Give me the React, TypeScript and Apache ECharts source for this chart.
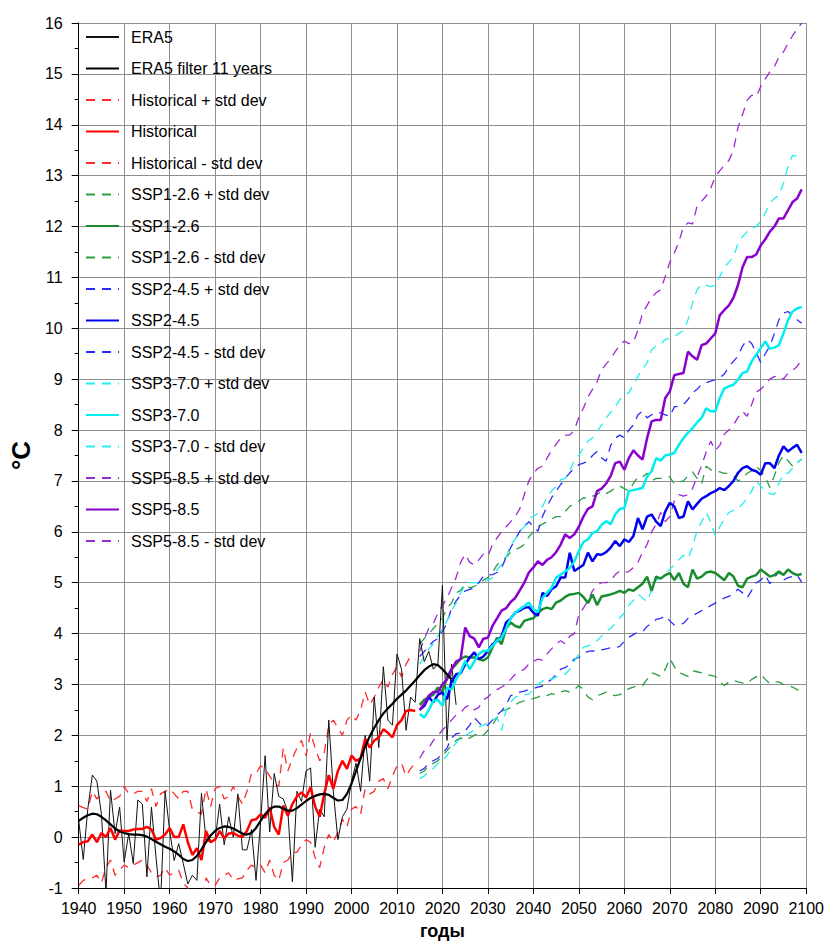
import React, { useEffect, useRef } from "react";
import * as echarts from "echarts";

// ---------- DATA ----------
const ERA5_START = 1940;
const era5 = [
  0.33, -0.44, 0.55, 1.22, 1.1, 0.45, -1.08, 0.92, 0.07, 0.59,
  -0.49, 0.07, -0.52, 0.73, 0.65, -0.78, 0.59, -0.39, -1.3, 0.9,
  0.13, -0.46, -0.13, -0.52, -0.92, -0.75, -0.85, 0.86, -0.05, -0.1,
  -0.05, 0.65, -0.15, 0.4, 0.0, 0.85, -0.25, -0.25, 0.15, -0.85,
  0.3, 1.6, 0.1, 1.25, 0.8, 0.75, 0.5, -0.88, 0.9, 0.7,
  1.3, 1.36, -0.2, 0.55, 0.4, 2.3, 0.9, -0.05, 0.4, 0.55,
  1.1, 1.45, 0.9, 2.0, 1.1, 2.75, 1.76, 3.35, 2.3, 2.2,
  3.6, 3.3, 2.1, 2.75, 2.65, 3.9, 3.45, 3.65, 3.3, 3.4,
  4.95, 1.9, 3.4, 2.6,
];
const era5Filter = [
  0.32, 0.38, 0.43, 0.46, 0.45, 0.4, 0.33, 0.25, 0.17, 0.11,
  0.08, 0.06, 0.05, 0.05, 0.04, 0.01, -0.04, -0.09, -0.14, -0.19,
  -0.23, -0.28, -0.35, -0.43, -0.47, -0.45, -0.37, -0.24, -0.1, 0.03,
  0.12, 0.18, 0.21, 0.2, 0.17, 0.12, 0.07, 0.05, 0.08, 0.18,
  0.32, 0.45, 0.55, 0.6, 0.6, 0.56, 0.52, 0.52, 0.57, 0.64,
  0.71, 0.77, 0.81, 0.84, 0.85, 0.83, 0.77, 0.72, 0.73, 0.85,
  1.05, 1.3, 1.55, 1.78, 1.98, 2.15, 2.3, 2.43, 2.53, 2.62,
  2.72, 2.8, 2.88, 2.98, 3.08, 3.18, 3.28, 3.35, 3.4, 3.38,
  3.3, 3.2, 3.1,
];

const HIST_START = 1940;
const histPlus = [
  0.62, 0.58, 0.55, 0.9, 0.75, 0.85, 0.9, 0.7, 0.75, 0.8,
  1.0, 0.85, 0.85, 0.9, 0.9, 0.7, 0.95, 0.6, 0.85, 0.9,
  0.95, 0.85, 0.75, 0.9, 0.9, 0.55, 0.5, 0.45, 0.95, 0.6,
  0.95, 1.0, 0.75, 0.8, 1.0, 0.8, 0.65, 0.9, 1.25, 1.25,
  1.4, 1.35, 1.2, 1.05, 1.0, 1.75, 1.3, 1.55, 1.75, 1.9,
  1.6, 2.05, 1.75, 1.5, 1.65, 2.2, 2.3, 2.15, 2.0, 2.3,
  2.4, 2.3, 2.5, 2.85, 2.6, 2.75, 2.95, 3.1, 2.95, 3.2,
  3.35, 3.15, 3.4, 3.55, 3.5,
];
const hist = [
  -0.15, -0.1, -0.08, 0.05, -0.1, 0.08, 0.0, 0.18, -0.05, 0.13,
  0.12, 0.12, 0.15, 0.16, 0.16, 0.2, 0.15, -0.05, -0.02, 0.05,
  0.18, 0.0, 0.0, 0.25, -0.1, -0.35, -0.22, -0.45, 0.12, -0.1,
  -0.05, 0.12, -0.02, 0.07, 0.08, 0.03, 0.0, 0.12, 0.33, 0.35,
  0.45, 0.38, 0.58, 0.2, 0.05, 0.62, 0.42, 0.65, 0.8, 0.88,
  0.78, 0.98, 0.6, 0.4, 0.85, 1.22, 0.95, 1.3, 1.5, 1.34,
  1.6, 1.5, 1.55, 1.93, 1.76, 1.9, 1.96, 2.12, 2.05, 1.96,
  2.2, 2.3, 2.48, 2.5, 2.48,
];
const histMinus = [
  -0.95, -0.85, -0.82, -0.8, -0.75, -0.9, -0.6, -0.45, -0.75, -0.65,
  -0.55, -0.6, -0.55, -0.5, -0.45, -0.55, -0.7, -0.78, -0.75, -0.6,
  -0.75, -0.7, -0.65, -0.9, -1.0, -1.15, -1.1, -1.25, -0.8, -0.95,
  -0.95, -0.8, -0.75, -0.7, -0.85, -0.82, -0.8, -0.65, -0.55, -0.6,
  -0.55, -0.7, -0.45, -0.75, -0.85, -0.5, -0.45, -0.3, -0.3, -0.15,
  -0.05, -0.1, -0.4, -0.6, -0.2, 0.05, -0.1, 0.1, 0.35, 0.2,
  0.55, 0.6, 0.45, 0.95, 0.85, 0.9, 1.1, 1.15, 0.95, 1.2,
  1.4, 1.45, 1.2, 1.35, 1.45,
];

const SSP_START = 2015;
const ssp126Plus = [
  3.8, 3.9, 4.0, 4.1, 4.2, 4.3, 4.5, 4.6, 4.8, 4.85,
  4.97, 4.9, 4.93, 4.97, 5.05, 5.1, 5.2, 5.35, 5.43, 5.5,
  5.6, 5.65, 5.69, 5.75, 5.9, 6.0, 6.1, 6.15, 6.2, 6.25,
  6.3, 6.3, 6.4, 6.5, 6.55, 6.6, 6.67, 6.66, 6.7, 6.73,
  6.8, 6.75, 6.8, 6.86, 6.9, 6.85, 6.8, 6.95, 7.08, 7.08,
  7.15, 7.0, 7.05, 7.05, 7.08, 7.08, 6.94, 6.98, 7.0, 7.1,
  7.18, 7.05, 6.94, 7.29, 7.22, 7.2, 7.18, 7.15, 7.15, 7.1,
  7.0, 7.05, 7.15, 7.2, 7.29, 7.2, 7.08, 6.87, 7.1, 7.36,
  7.5, 7.4, 7.29, 7.35, 7.43,
];
const ssp126 = [
  2.6, 2.7, 2.75, 2.8, 2.94, 2.85, 3.14, 3.3, 3.4, 3.5,
  3.55, 3.53, 3.53, 3.5, 3.47, 3.53, 3.73, 3.92, 3.79, 4.1,
  4.22, 4.15, 4.12, 4.25, 4.28, 4.3, 4.41, 4.48, 4.51, 4.48,
  4.61, 4.65, 4.72, 4.77, 4.78, 4.8, 4.72, 4.6, 4.77, 4.56,
  4.73, 4.75, 4.77, 4.8, 4.84, 4.8, 4.87, 4.84, 4.91, 4.98,
  5.12, 4.84, 5.12, 5.08, 5.15, 5.19, 5.05, 5.19, 4.98, 4.91,
  5.26, 5.08, 5.12, 5.2, 5.22, 5.19, 5.12, 5.05, 5.19, 5.12,
  4.94, 4.91, 5.08, 5.12, 5.15, 5.26, 5.19, 5.12, 5.15, 5.22,
  5.15, 5.26, 5.19, 5.15, 5.17,
];
const ssp126Minus = [
  1.25, 1.3, 1.4, 1.45, 1.5, 1.6, 1.7, 1.8, 1.9, 1.95,
  1.9, 1.95, 2.0, 2.05, 2.0, 2.1, 2.2, 2.35, 2.48, 2.5,
  2.55, 2.6, 2.65, 2.68, 2.7, 2.72, 2.75, 2.8, 2.78, 2.82,
  2.8, 2.85, 2.88, 2.85, 2.9, 2.98, 2.9, 2.75, 2.7, 2.78,
  2.81, 2.85, 2.8, 2.78, 2.8, 2.85, 2.92, 2.95, 2.98, 2.98,
  3.1, 3.23, 3.2, 3.16, 3.3, 3.51, 3.35, 3.23, 3.2, 3.16,
  3.27, 3.25, 3.23, 3.2, 3.18, 3.16, 3.05, 2.98, 3.05, 3.08,
  3.05, 3.03, 3.02, 3.1, 3.15, 3.2, 3.1, 3.02, 3.05, 3.05,
  3.0, 2.98, 2.95, 2.9, 2.88,
];
const ssp245Plus = [
  3.55, 3.65, 3.75, 3.85, 3.9, 4.05, 4.2, 4.5, 4.64, 4.75,
  4.84, 4.87, 4.9, 5.0, 5.13, 5.15, 5.16, 5.2, 5.29, 5.5,
  5.69, 5.85, 6.01, 6.1, 6.2, 6.1, 6.01, 6.3, 6.5, 6.67,
  6.8, 6.93, 7.05, 7.16, 7.25, 7.32, 7.35, 7.39, 7.5, 7.58,
  7.45, 7.39, 7.7, 7.84, 7.9, 7.85, 8.0, 8.1, 8.3, 8.37,
  8.24, 8.3, 8.34, 8.34, 8.3, 8.27, 8.46, 8.46, 8.5, 8.6,
  8.73, 8.8, 8.9, 8.93, 8.96, 8.99, 9.03, 9.1, 9.25, 9.35,
  9.45, 9.65, 9.78, 9.7, 9.52, 9.33, 9.5, 9.65, 9.9, 10.17,
  10.3, 10.33, 10.25, 10.17, 10.1,
];
const ssp245 = [
  2.5, 2.58, 2.75, 2.65, 2.8, 2.84, 2.71, 3.05, 3.2, 3.22,
  3.4, 3.53, 3.63, 3.5, 3.55, 3.66, 3.79, 3.85, 3.95, 4.22,
  4.3, 4.41, 4.45, 4.51, 4.52, 4.41, 4.35, 4.8, 4.74, 4.87,
  4.93, 5.1, 5.1, 5.59, 5.23, 5.29, 5.35, 5.59, 5.42, 5.56,
  5.55, 5.6, 5.69, 5.82, 5.72, 5.85, 5.8, 5.92, 6.27, 6.05,
  6.3, 6.34, 6.2, 6.11, 6.4, 6.57, 6.5, 6.27, 6.3, 6.6,
  6.44, 6.55, 6.65, 6.7, 6.76, 6.8, 6.86, 6.82, 6.9, 7.0,
  7.16, 7.25, 7.29, 7.22, 7.19, 7.12, 7.35, 7.35, 7.25, 7.5,
  7.68, 7.58, 7.65, 7.71, 7.55,
];
const ssp245Minus = [
  1.3, 1.35, 1.45, 1.5, 1.55, 1.65, 1.75, 1.95, 2.03, 2.05,
  2.09, 2.2, 2.35, 2.25, 2.16, 2.2, 2.3, 2.4, 2.48, 2.6,
  2.78, 2.81, 2.85, 2.87, 2.9, 2.92, 2.95, 2.97, 3.04, 3.1,
  3.2, 3.3, 3.33, 3.4, 3.5, 3.53, 3.6, 3.65, 3.66, 3.65,
  3.68, 3.7, 3.72, 3.72, 3.75, 3.85, 3.93, 3.98, 4.03, 4.03,
  4.14, 4.2, 4.28, 4.3, 4.35, 4.25, 4.17, 4.18, 4.2, 4.3,
  4.35, 4.4, 4.45, 4.5, 4.55, 4.6, 4.65, 4.7, 4.73, 4.8,
  4.87, 4.8, 4.7, 4.85, 5.0, 5.05, 5.15, 4.98, 5.1, 5.22,
  5.05, 5.1, 5.12, 5.15, 5.01,
];
const ssp370Plus = [
  3.4, 3.55, 3.7, 3.8, 3.95, 4.1, 4.25, 4.45, 4.6, 4.8,
  4.95, 5.0, 5.0, 5.0, 5.02, 5.05, 5.1, 5.25, 5.36, 5.5,
  5.75, 5.85, 6.01, 6.1, 6.27, 6.3, 6.37, 6.5, 6.67, 6.8,
  6.9, 7.02, 7.05, 7.2, 7.4, 7.5, 7.65, 7.78, 7.85, 7.97,
  8.1, 8.24, 8.35, 8.46, 8.6, 8.7, 8.73, 8.9, 9.06, 9.2,
  9.32, 9.58, 9.65, 9.68, 9.78, 9.8, 9.84, 9.9, 9.95, 10.17,
  10.5, 10.76, 10.86, 10.85, 10.82, 10.85, 11.02, 11.2, 11.3, 11.4,
  11.67, 11.8, 11.9, 11.97, 12.0, 12.1, 12.26, 12.46, 12.55, 12.62,
  12.85, 13.18, 13.4, 13.38, 13.34,
];
const ssp370 = [
  2.42, 2.35, 2.5, 2.68, 2.7, 2.58, 2.94, 2.9, 3.1, 3.25,
  3.46, 3.3, 3.45, 3.6, 3.66, 3.66, 3.76, 3.86, 3.92, 4.1,
  4.3, 4.41, 4.48, 4.54, 4.61, 4.48, 4.42, 4.7, 4.8, 4.9,
  5.1, 5.16, 5.22, 5.29, 5.42, 5.62, 5.8, 5.85, 5.98, 6.01,
  6.14, 6.21, 6.15, 6.34, 6.45, 6.47, 6.8, 6.82, 6.84, 6.86,
  7.09, 7.19, 7.45, 7.4, 7.5, 7.52, 7.55, 7.71, 7.84, 7.95,
  8.04, 8.15, 8.24, 8.43, 8.37, 8.37, 8.63, 8.82, 8.86, 8.89,
  8.99, 9.12, 9.15, 9.35, 9.48, 9.61, 9.74, 9.6, 9.62, 9.67,
  9.9, 10.16, 10.33, 10.39, 10.42,
];
const ssp370Minus = [
  1.15, 1.2, 1.3, 1.35, 1.45, 1.5, 1.6, 1.75, 1.85, 1.95,
  2.0, 2.05, 2.1, 2.16, 2.2, 2.25, 2.3, 2.35, 2.1, 2.5,
  2.65, 2.75, 2.78, 2.8, 2.81, 2.9, 3.0, 3.07, 3.14, 3.1,
  3.15, 3.18, 3.2, 3.3, 3.46, 3.6, 3.73, 3.76, 3.79, 3.86,
  3.95, 4.05, 4.1, 4.2, 4.31, 4.4, 4.56, 4.65, 4.77, 4.7,
  4.63, 4.85, 5.05, 5.1, 5.2, 5.26, 5.35, 5.45, 5.54, 5.47,
  5.7, 6.03, 6.2, 6.38, 6.2, 5.92, 6.1, 6.25, 6.38, 6.42,
  6.45, 6.55, 6.66, 6.8, 7.0, 6.9, 6.8, 6.75, 6.73, 6.95,
  7.15, 7.15, 7.25, 7.36, 7.43,
];
const ssp585Plus = [
  3.65, 3.9, 4.1, 4.2, 4.4, 4.55, 4.7, 4.9, 5.1, 5.4,
  5.56, 5.4, 5.35, 5.45, 5.56, 5.52, 5.75, 5.88, 6.0, 6.1,
  6.2, 6.3, 6.45, 6.73, 7.0, 7.15, 7.25, 7.29, 7.45, 7.6,
  7.72, 7.84, 7.9, 7.9, 8.0, 8.25, 8.43, 8.65, 8.8, 8.95,
  9.18, 9.3, 9.4, 9.54, 9.67, 9.75, 9.7, 9.72, 9.97, 10.3,
  10.45, 10.6, 10.7, 10.76, 11.02, 11.3, 11.48, 11.7, 12.0, 12.07,
  12.05, 12.4, 12.5, 12.6, 12.75, 12.98, 13.1, 13.2, 13.3, 13.5,
  13.95, 14.2, 14.48, 14.58, 14.55, 14.75, 14.9, 15.04, 15.14, 15.33,
  15.43, 15.6, 15.75, 15.88, 16.0,
];
const ssp585 = [
  2.5, 2.62, 2.78, 2.85, 2.85, 3.0, 3.1, 3.3, 3.45, 3.5,
  4.12, 3.95, 3.9, 3.73, 3.9, 3.92, 4.15, 4.3, 4.45, 4.5,
  4.62, 4.7, 4.85, 5.0, 5.2, 5.3, 5.42, 5.35, 5.45, 5.5,
  5.6, 5.75, 5.95, 5.88, 5.95, 6.1, 6.3, 6.45, 6.5, 6.8,
  6.85, 6.95, 7.1, 7.35, 7.38, 7.22, 7.45, 7.6, 7.5, 7.42,
  7.84, 8.17, 8.2, 8.2, 8.63, 8.76, 9.08, 9.1, 9.12, 9.54,
  9.45, 9.38, 9.67, 9.7, 9.8, 9.9, 10.26, 10.36, 10.45, 10.6,
  10.85, 11.2, 11.4, 11.4, 11.45, 11.63, 11.75, 11.9, 12.0, 12.16,
  12.16, 12.32, 12.48, 12.55, 12.73,
];
const ssp585Minus = [
  1.55, 1.7, 1.75, 1.9, 2.0, 2.1, 2.2, 2.3, 2.4, 2.45,
  2.55, 2.6, 2.5, 2.55, 2.7, 2.75, 2.85, 2.9, 2.95, 3.0,
  3.1, 3.2, 3.25, 3.3, 3.4, 3.45, 3.5, 3.48, 3.6, 3.7,
  3.8, 3.86, 3.8, 3.95, 4.0, 4.38, 4.5, 4.65, 4.84, 4.95,
  5.0, 5.0, 5.03, 5.16, 5.23, 5.2, 5.22, 5.3, 5.4, 5.6,
  5.75, 6.0, 6.15, 6.38, 6.2, 6.3, 6.6, 6.73, 6.7, 6.73,
  6.85, 7.08, 7.3, 7.57, 7.78, 7.6, 7.7, 7.92, 8.0, 8.1,
  8.25, 8.37, 8.27, 8.5, 8.75, 8.8, 8.9, 9.0, 9.05, 9.07,
  9.0, 9.12, 9.17, 9.25, 9.38,
];

const X_MIN = 1940;
const X_MAX = 2100;
const X_STEP = 10;
const Y_MIN = -1;
const Y_MAX = 16;
const Y_STEP = 1;
const X_NAME = "годы";
const Y_NAME = "°C";

// ---------- CHART ----------
const FONT = 'Arial, "Liberation Sans", sans-serif';

function pairs(start: number, values: number[]) {
  return values.map((v, i) => [start + i, v]);
}

type Def = {
  name: string;
  start: number;
  values: number[];
  color: string;
  width: number;
  dashed?: boolean;
  z: number;
};

export default function App() {
  const ref = useRef<HTMLDivElement>(null);

  useEffect(() => {
    if (!ref.current) return;
    const chart = echarts.init(ref.current, undefined, { renderer: "svg" });

    const defs: Def[] = [
      { name: "ERA5", start: ERA5_START, values: era5, color: "#111111", width: 1, z: 5 },
      { name: "ERA5 filter 11 years", start: ERA5_START, values: era5Filter, color: "#000000", width: 2.2, z: 9 },
      { name: "Historical + std dev", start: HIST_START, values: histPlus, color: "#ff2a2a", width: 1.3, dashed: true, z: 3 },
      { name: "Historical", start: HIST_START, values: hist, color: "#ff0000", width: 2.5, z: 6 },
      { name: "Historical - std dev", start: HIST_START, values: histMinus, color: "#ff2a2a", width: 1.3, dashed: true, z: 3 },
      { name: "SSP1-2.6 + std dev", start: SSP_START, values: ssp126Plus, color: "#2a9d45", width: 1.3, dashed: true, z: 3 },
      { name: "SSP1-2.6", start: SSP_START, values: ssp126, color: "#1a8c30", width: 2.5, z: 6 },
      { name: "SSP1-2.6 - std dev", start: SSP_START, values: ssp126Minus, color: "#2a9d45", width: 1.3, dashed: true, z: 3 },
      { name: "SSP2-4.5 + std dev", start: SSP_START, values: ssp245Plus, color: "#2a2aff", width: 1.3, dashed: true, z: 3 },
      { name: "SSP2-4.5", start: SSP_START, values: ssp245, color: "#0000ee", width: 2.5, z: 6 },
      { name: "SSP2-4.5 - std dev", start: SSP_START, values: ssp245Minus, color: "#2a2aff", width: 1.3, dashed: true, z: 3 },
      { name: "SSP3-7.0 + std dev", start: SSP_START, values: ssp370Plus, color: "#22eeee", width: 1.3, dashed: true, z: 3 },
      { name: "SSP3-7.0", start: SSP_START, values: ssp370, color: "#00eeee", width: 2.5, z: 7 },
      { name: "SSP3-7.0 - std dev", start: SSP_START, values: ssp370Minus, color: "#22eeee", width: 1.3, dashed: true, z: 3 },
      { name: "SSP5-8.5 + std dev", start: SSP_START, values: ssp585Plus, color: "#9a2ad4", width: 1.3, dashed: true, z: 3 },
      { name: "SSP5-8.5", start: SSP_START, values: ssp585, color: "#8a00cc", width: 2.5, z: 8 },
      { name: "SSP5-8.5 - std dev", start: SSP_START, values: ssp585Minus, color: "#9a2ad4", width: 1.3, dashed: true, z: 3 },
    ];

    const series = defs.map((d) => ({
      name: d.name,
      type: "line",
      data: pairs(d.start, d.values),
      symbol: "none",
      showSymbol: false,
      z: d.z,
      color: d.color,
      lineStyle: {
        color: d.color,
        width: d.width,
        type: d.dashed ? [9, 7] : "solid",
      },
      emphasis: { disabled: true },
    }));

    chart.setOption({
      animation: false,
      backgroundColor: "#ffffff",
      textStyle: { fontFamily: FONT },
      grid: { left: 67, right: 19, top: 23, bottom: 53, containLabel: false },
      legend: {
        orient: "vertical",
        left: 85,
        top: 29,
        padding: 0,
        itemWidth: 33,
        itemHeight: 14,
        itemGap: 15.5,
        selectedMode: false,
        itemStyle: { color: "rgba(0,0,0,0)", borderWidth: 0, opacity: 0 },
        textStyle: {
          fontFamily: FONT,
          fontSize: 16,
          color: "#000",
          lineHeight: 14,
          padding: [0, 0, 0, 7],
        },
        data: defs.map((d) => d.name),
      },
      xAxis: {
        type: "value",
        min: X_MIN,
        max: X_MAX,
        interval: X_STEP,
        name: X_NAME,
        nameLocation: "middle",
        nameGap: 34,
        nameTextStyle: { fontFamily: FONT, fontSize: 18, fontWeight: "bold", color: "#000" },
        axisLine: { onZero: false, lineStyle: { color: "#000", width: 1 } },
        axisTick: { show: true, length: 6, lineStyle: { color: "#000" } },
        axisLabel: {
          fontFamily: FONT,
          fontSize: 16,
          color: "#000",
          margin: 12,
          formatter: (v: number) => String(v),
        },
        splitLine: { show: true, lineStyle: { color: "#8e8e8e", width: 1 } },
      },
      yAxis: {
        type: "value",
        min: Y_MIN,
        max: Y_MAX,
        interval: Y_STEP,
        name: Y_NAME,
        nameLocation: "middle",
        nameRotate: 90,
        nameGap: 30,
        nameTextStyle: { fontFamily: FONT, fontSize: 26, fontWeight: "bold", color: "#000" },
        axisLine: { show: true, lineStyle: { color: "#000", width: 1 } },
        axisTick: { show: true, length: 7, lineStyle: { color: "#000" } },
        minorTick: { show: true, splitNumber: 2, length: 4, lineStyle: { color: "#000" } },
        axisLabel: { fontFamily: FONT, fontSize: 16, color: "#000", margin: 16 },
        splitLine: { show: true, lineStyle: { color: "#8e8e8e", width: 1 } },
      },
      series,
    });

    return () => chart.dispose();
  }, []);

  return (
    <div
      ref={ref}
      style={{ position: "fixed", left: 0, top: 0, width: 827, height: 945, background: "#fff" }}
    />
  );
}
